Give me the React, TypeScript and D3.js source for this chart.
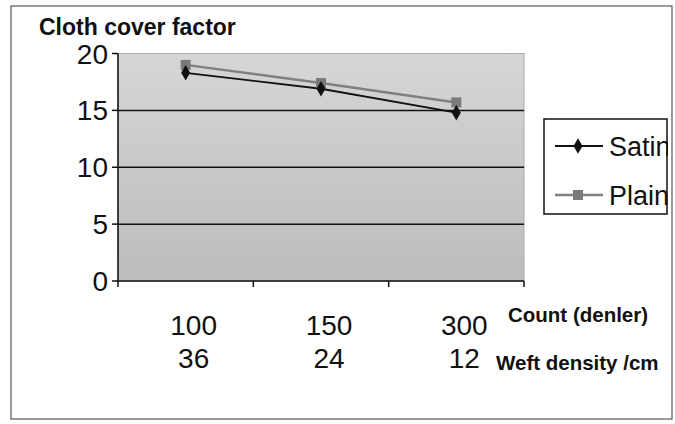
import React from "react";
import * as d3 from "d3";

const counts = ["100", "150", "300"];
const weftDensity = ["36", "24", "12"];
const satin = [18.3, 16.9, 14.8];
const plain = [19.0, 17.4, 15.7];
const yTicks = [0, 5, 10, 15, 20];
const seriesNames = ["Satin", "Plain"];

const W = 675;
const H = 424;
const font = "'Liberation Sans', Arial, sans-serif";

export default function App() {
  const x = d3.scaleBand<string>().domain(counts).range([118, 524]).padding(0);
  const y = d3.scaleLinear().domain([0, 20]).range([281, 53.5]);
  const cx = (c: string) => (x(c) as number) + x.bandwidth() / 2;

  const line = d3
    .line<number>()
    .x((_, i) => cx(counts[i]))
    .y((d) => y(d));

  const bounds = [...counts.map((c) => x(c) as number), 524];
  const diamond = d3.symbol(d3.symbolDiamond, 70)() as string;

  return (
    <svg
      width={W}
      height={H}
      style={{ position: "absolute", left: 0, top: 0, background: "#fff" }}
      fontFamily={font}
    >
      <defs>
        <linearGradient id="bg" x1="0" y1="0" x2="0" y2="1">
          <stop offset="0" stopColor="#d6d6d6" />
          <stop offset="1" stopColor="#bcbcbc" />
        </linearGradient>
        <clipPath id="clipR">
          <rect x={0} y={0} width={668} height={H} />
        </clipPath>
      </defs>
      {/* outer frame */}
      <rect x={11} y={6} width={661} height={413} fill="#fff" stroke="#555" strokeWidth={1.2} />

      {/* title */}
      <text x={39} y={35} fontSize={23} fontWeight="bold" fill="#111">
        Cloth cover factor
      </text>

      {/* plot area */}
      <rect
        x={118}
        y={y(20)}
        width={524 - 118}
        height={y(0) - y(20)}
        fill="url(#bg)"
        stroke="#aaa"
        strokeWidth={1}
      />
      {yTicks
        .filter((t) => t > 0 && t < 20)
        .map((t) => (
          <line key={t} x1={118} x2={524} y1={y(t)} y2={y(t)} stroke="#111" strokeWidth={1.5} />
        ))}

      {/* y axis */}
      <line x1={118} x2={118} y1={y(20)} y2={y(0)} stroke="#111" strokeWidth={1.5} />
      {yTicks.map((t) => (
        <g key={t}>
          <line x1={112} x2={118} y1={y(t)} y2={y(t)} stroke="#111" strokeWidth={1.5} />
          <text x={108} y={y(t)} dy="0.36em" textAnchor="end" fontSize={28} fill="#111">
            {t}
          </text>
        </g>
      ))}

      {/* x axis */}
      <line x1={118} x2={524} y1={y(0)} y2={y(0)} stroke="#111" strokeWidth={1.5} />
      {bounds.map((b, i) => (
        <line key={i} x1={b} x2={b} y1={y(0)} y2={y(0) + 6} stroke="#111" strokeWidth={1.5} />
      ))}
      {counts.map((c) => (
        <text key={c} x={cx(c) + 8} y={335} textAnchor="middle" fontSize={28} fill="#111">
          {c}
        </text>
      ))}
      {counts.map((c, i) => (
        <text key={"w" + c} x={cx(c) + 8} y={368} textAnchor="middle" fontSize={28} fill="#111">
          {weftDensity[i]}
        </text>
      ))}
      <text x={508} y={322} fontSize={20.5} fontWeight="bold" fill="#111">
        Count (denler)
      </text>
      <text x={496} y={370} fontSize={20.5} fontWeight="bold" fill="#111">
        Weft density /cm
      </text>

      {/* series */}
      <path d={line(plain) as string} fill="none" stroke="#808080" strokeWidth={2.5} />
      <path d={line(satin) as string} fill="none" stroke="#111" strokeWidth={1.8} />
      {plain.map((v, i) => (
        <rect key={"p" + i} x={cx(counts[i]) - 5} y={y(v) - 5} width={10} height={10} fill="#7a7a7a" />
      ))}
      {satin.map((v, i) => (
        <path key={"s" + i} d={diamond} transform={`translate(${cx(counts[i])},${y(v)})`} fill="#111" />
      ))}

      {/* legend */}
      <g clipPath="url(#clipR)">
        <rect x={544} y={119} width={123} height={95} fill="#fff" stroke="#111" strokeWidth={1.5} />
        <line x1={555} x2={603} y1={146} y2={146} stroke="#111" strokeWidth={1.8} />
        <path d={diamond} transform="translate(578,146)" fill="#111" />
        <text x={609} y={146} dy="0.36em" fontSize={27} fill="#111">
          {seriesNames[0]}
        </text>
        <line x1={555} x2={603} y1={195} y2={195} stroke="#808080" strokeWidth={2.5} />
        <rect x={573} y={190} width={10} height={10} fill="#7a7a7a" />
        <text x={609} y={195} dy="0.36em" fontSize={27} fill="#111">
          {seriesNames[1]}
        </text>
      </g>
    </svg>
  );
}
